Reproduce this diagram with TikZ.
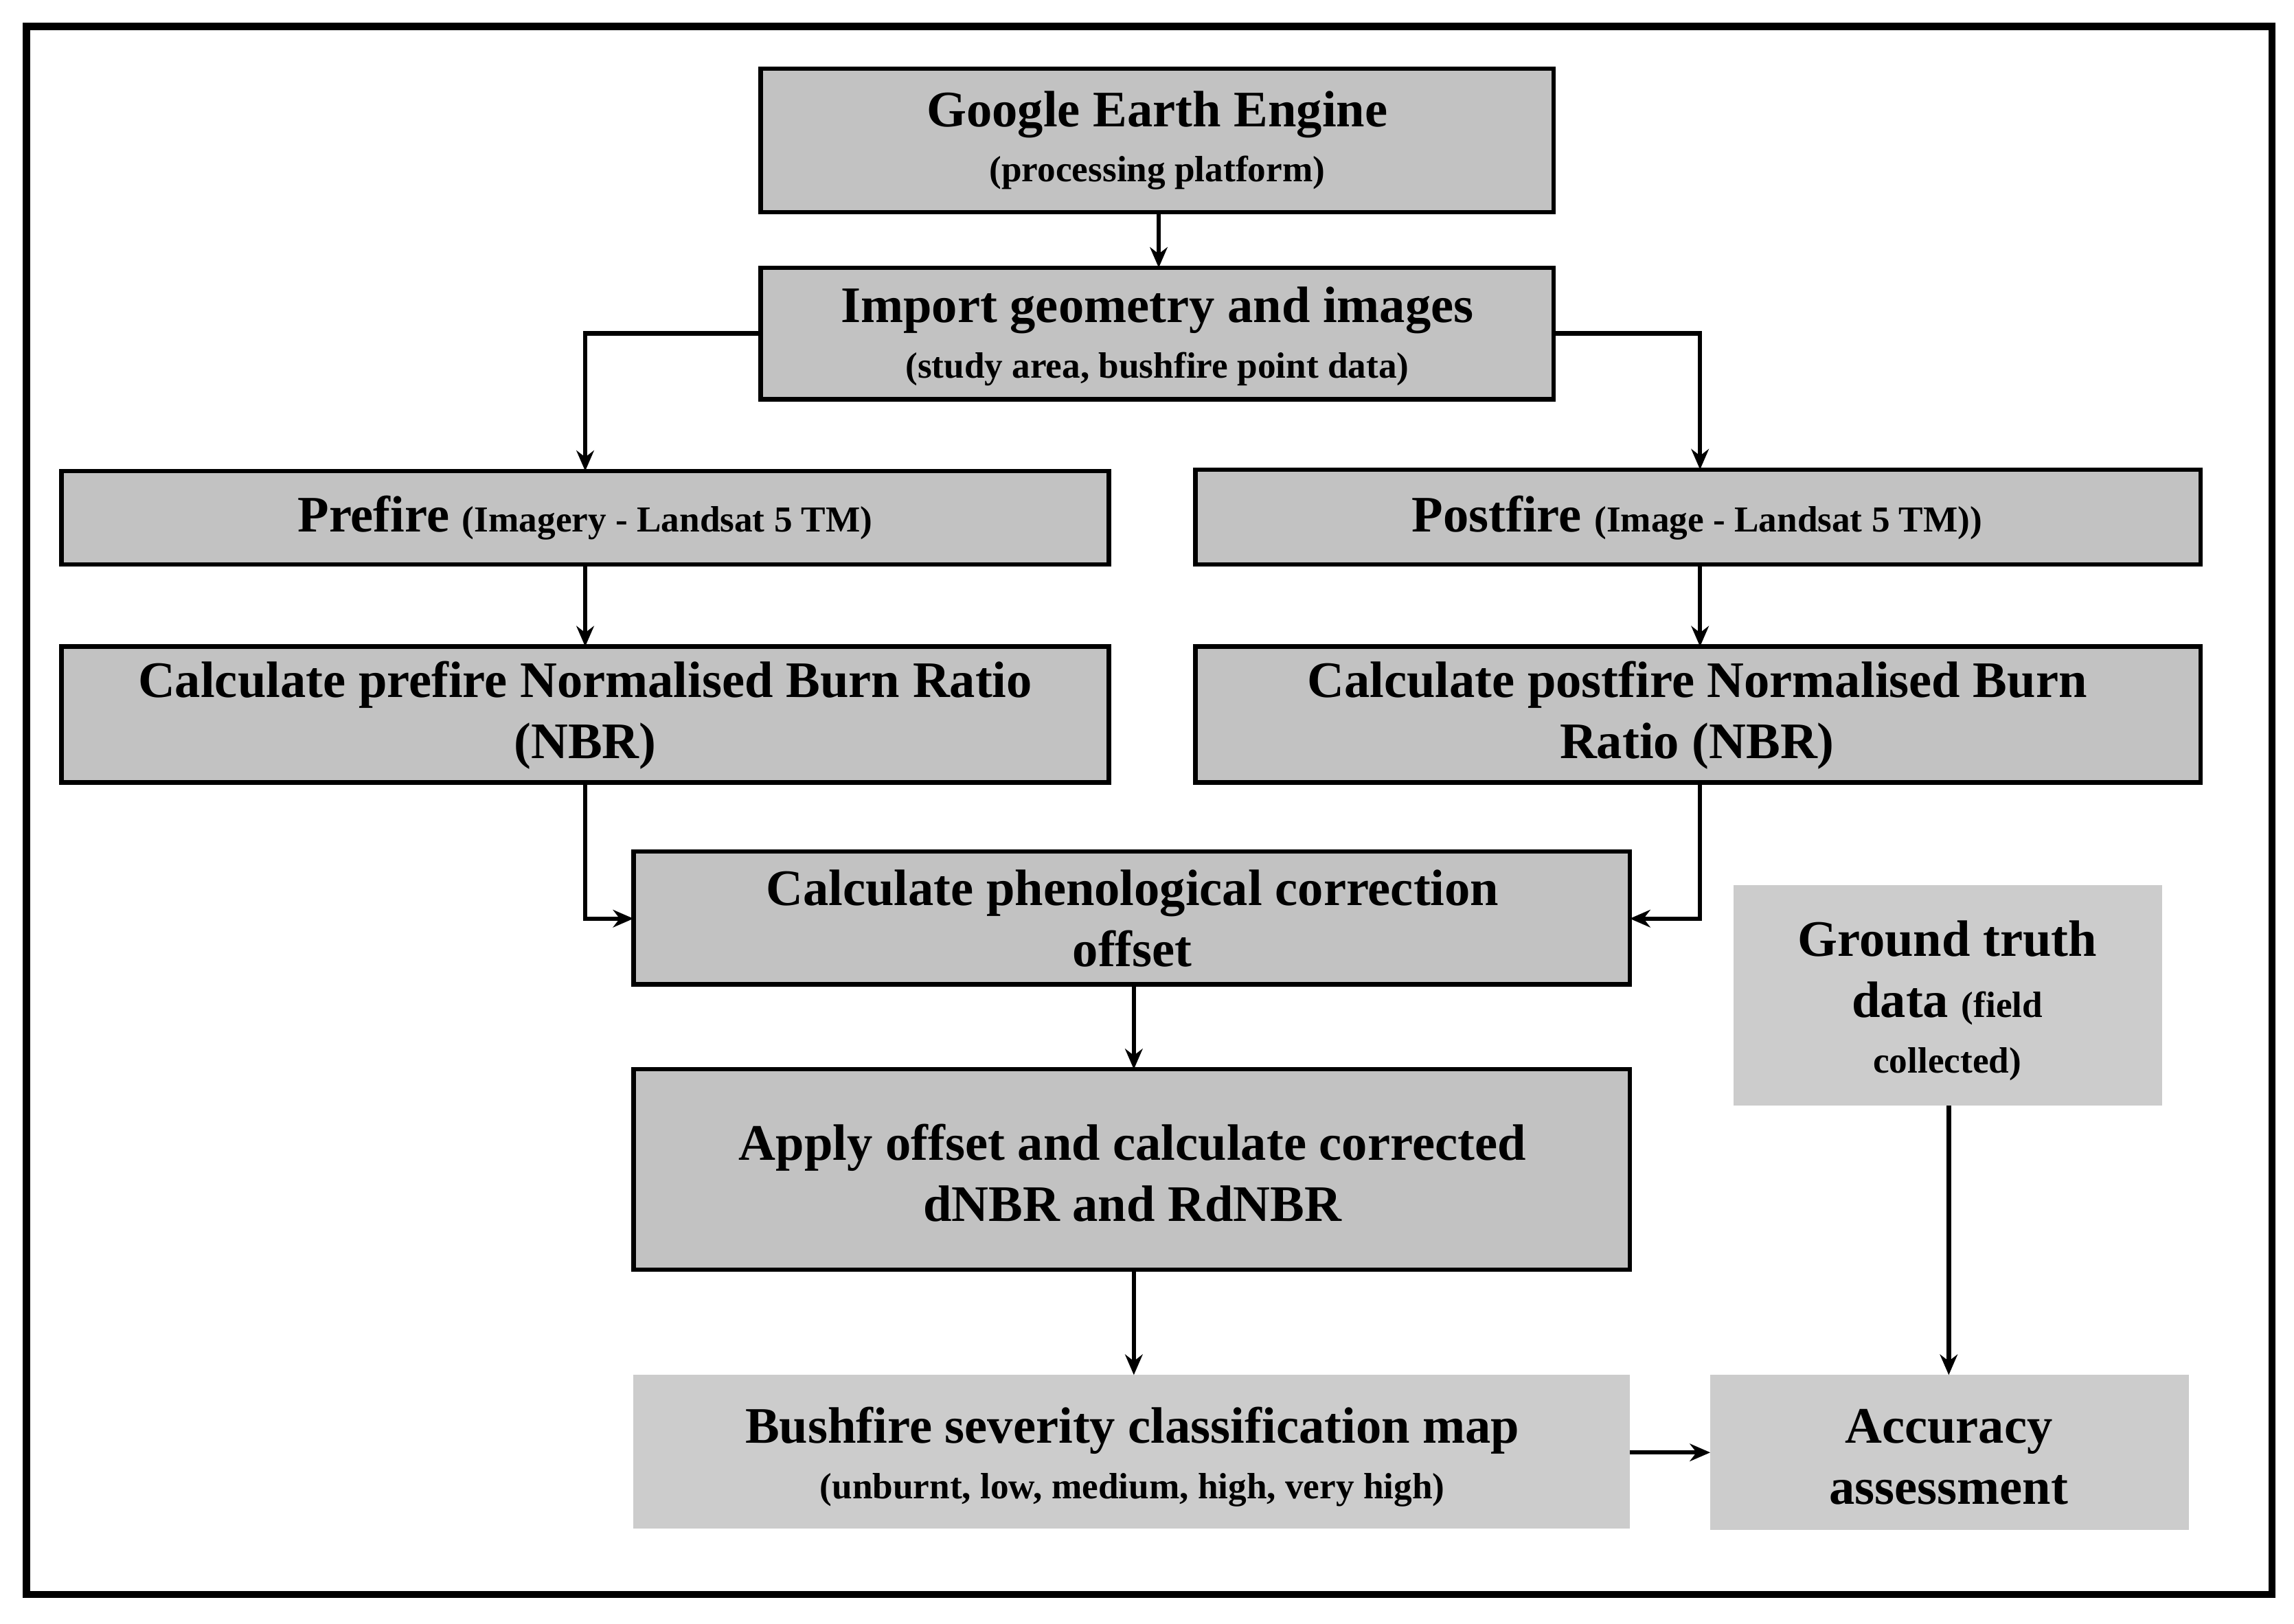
\documentclass[tikz,border=0pt]{standalone}
\usepackage{fontspec}
\setmainfont{Liberation Serif}
\usetikzlibrary{arrows.meta}
\begin{document}
\begin{tikzpicture}[x=0.5pt,y=-0.5pt,
  bx/.style={draw=black,line width=1.5pt,fill=gray!48},
  nb/.style={fill=gray!40},
  big/.style={font=\bfseries\fontsize{17.5}{21}\selectfont,align=center},
  sm/.style={font=\bfseries\fontsize{12.5}{15}\selectfont},
  ar/.style={line width=1.5pt,-{Stealth[length=7pt,width=6pt]}}]
\fill[white] (0,0) rectangle (1568,1110);
\draw[line width=2.5pt] (18,18) rectangle (1553,1090);
% boxes
\draw[bx] (520,47) rectangle (1062,145);
\node[big] (gee) at (791,96) {Google Earth Engine\\[-2pt]{\fontsize{12.5}{15}\selectfont (processing platform)}};
\coordinate (geeB) at (792,145);
\draw[bx] (520,183) rectangle (1062,273);
\node[big] (imp) at (791,230) {Import geometry and images\\[-2pt]{\fontsize{12.5}{15}\selectfont (study area, bushfire point data)}};
\coordinate (impT) at (792,183); \coordinate (impL) at (520,228); \coordinate (impR) at (1062,228);
\draw[bx] (42,322) rectangle (758,386);
\node[big] (pre) at (400,354) {Prefire {\fontsize{12.5}{15}\selectfont (Imagery - Landsat 5 TM)}};
\draw[bx] (817,321) rectangle (1504,386);
\node[big] (post) at (1160,354) {Postfire {\fontsize{12.5}{15}\selectfont (Image - Landsat 5 TM))}};
\draw[bx] (42,442) rectangle (758,535);
\node[big] (cpre) at (400,489) {Calculate prefire Normalised Burn Ratio\\(NBR)};
\draw[bx] (817,442) rectangle (1504,535);
\node[big] (cpost) at (1160,489) {Calculate postfire Normalised Burn\\Ratio (NBR)};
\draw[bx] (433,582) rectangle (1114,673);
\node[big] (phen) at (774,628) {Calculate phenological correction\\offset};
\draw[bx] (433,731) rectangle (1114,868);
\node[big] (app) at (774,802) {Apply offset and calculate corrected\\dNBR and RdNBR};
\fill[gray!40] (433,940) rectangle (1114,1045);
\node[big] (bush) at (774,996) {Bushfire severity classification map\\[-2pt]{\fontsize{12.5}{15}\selectfont (unburnt,\ low, medium, high, very high)}};
\fill[gray!40] (1185,605) rectangle (1478,756);
\node[big] (gt) at (1331,684) {Ground truth\\data {\fontsize{12.5}{15}\selectfont (field}\\[-2pt]{\fontsize{12.5}{15}\selectfont collected)}};
\fill[gray!40] (1169,940) rectangle (1496,1046);
\node[big] (acc) at (1332,996) {Accuracy\\assessment};
% arrows
\draw[ar] (792,145) -- (792,183);
\draw[ar] (520,228) -- (400,228) -- (400,322);
\draw[ar] (1062,228) -- (1162,228) -- (1162,321);
\draw[ar] (400,386) -- (400,442);
\draw[ar] (1162,386) -- (1162,442);
\draw[ar] (400,535) -- (400,628) -- (433,628);
\draw[ar] (1162,535) -- (1162,628) -- (1114,628);
\draw[ar] (775,673) -- (775,731);
\draw[ar] (775,868) -- (775,940);
\draw[ar] (1332,756) -- (1332,940);
\draw[ar] (1114,993) -- (1169,993);
\end{tikzpicture}
\end{document}
